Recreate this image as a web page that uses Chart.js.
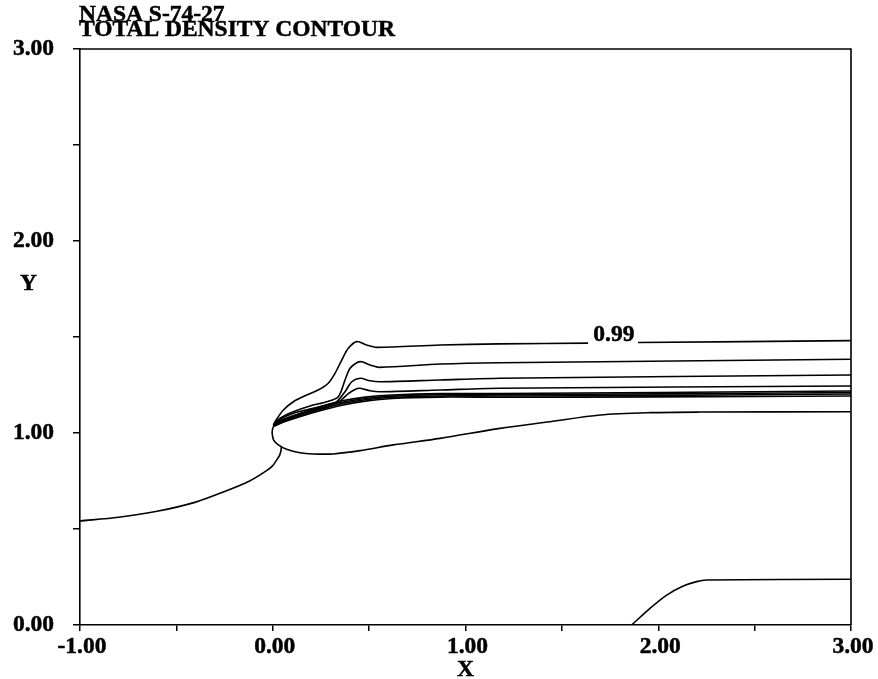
<!DOCTYPE html>
<html><head><meta charset="utf-8">
<script src="https://cdn.jsdelivr.net/npm/chart.js@4"></script>
<style>html,body{margin:0;padding:0;background:#fff}
.pre{font-family:"Liberation Serif";font-weight:bold;font-size:23.5px;position:absolute;left:-999px;top:0}</style>
</head><body>
<span class="pre">0.99 NASA</span>
<canvas id="c" width="878" height="679"></canvas>
<script>
// ---- data ----
const titleLines = ['NASA S-74-27', 'TOTAL DENSITY CONTOUR'];
const xAxisTitle = 'X';
const yAxisTitle = 'Y';
const xTickValues = [-1, 0, 1, 2, 3];
const xTickLabels = ['-1.00', '0.00', '1.00', '2.00', '3.00'];
const yTickValues = [0, 1, 2, 3];
const yTickLabels = ['0.00', '1.00', '2.00', '3.00'];
const contourLabelText = '0.99';
const contourLabelAt = [1.77, 1.477];

const contour099 = [[0.003,1.040],[0.012,1.059],[0.055,1.120],[0.107,1.163],[0.176,1.198],[0.236,1.224],[0.288,1.259],[0.323,1.311],[0.358,1.380],[0.392,1.441],[0.436,1.476],[0.487,1.458],[0.539,1.446],[0.868,1.458],[1.179,1.464],[1.636,1.468],[1.76,null],[1.895,1.471],[3.0,1.481]];
const contourB = [[0.003,1.040],[0.038,1.077],[0.107,1.111],[0.193,1.141],[0.280,1.163],[0.340,1.189],[0.375,1.276],[0.401,1.337],[0.436,1.366],[0.461,1.371],[0.505,1.354],[0.556,1.342],[0.868,1.359],[1.179,1.366],[3.0,1.384]];
const contourC = [[0.003,1.040],[0.038,1.071],[0.107,1.103],[0.210,1.129],[0.297,1.151],[0.332,1.163],[0.375,1.215],[0.410,1.267],[0.453,1.285],[0.505,1.272],[0.556,1.267],[0.868,1.276],[1.179,1.285],[3.0,1.302]];
const contourD = [[0.003,1.040],[0.038,1.064],[0.141,1.100],[0.245,1.126],[0.340,1.160],[0.392,1.205],[0.427,1.227],[0.453,1.233],[0.505,1.220],[0.556,1.215],[0.868,1.224],[1.179,1.233],[3.0,1.245]];
const contourE = [[0.003,1.040],[0.06,1.070],[0.14,1.102],[0.25,1.138],[0.36,1.168],[0.48,1.187],[0.62,1.198],[0.87,1.205],[1.18,1.206],[2.0,1.211],[3.0,1.219]];
const contourF = [[0.003,1.038],[0.06,1.066],[0.14,1.097],[0.25,1.131],[0.36,1.160],[0.48,1.180],[0.62,1.192],[0.87,1.199],[1.18,1.200],[2.0,1.204],[3.0,1.211]];
const contourG = [[0.003,1.036],[0.06,1.062],[0.14,1.091],[0.25,1.124],[0.36,1.153],[0.48,1.173],[0.62,1.186],[0.87,1.193],[1.18,1.193],[2.0,1.196],[3.0,1.203]];
const contourH = [[0.003,1.034],[0.06,1.058],[0.14,1.085],[0.25,1.117],[0.36,1.145],[0.48,1.166],[0.62,1.180],[0.87,1.187],[1.18,1.186],[2.0,1.188],[3.0,1.193]];
const contourLoop = [[0.003,1.034],[-0.002,1.015],[-0.003,0.998],[0.004,0.964],[0.029,0.938],[0.072,0.915],[0.141,0.897],[0.210,0.891],[0.314,0.891],[0.453,0.908],[0.625,0.938],[0.868,0.972],[1.179,1.024],[1.438,1.059],[1.698,1.094],[1.957,1.106],[2.217,1.109],[3.0,1.111]];
const contourShock = [[-1.0,0.542],[-0.8,0.561],[-0.6,0.592],[-0.4,0.640],[-0.25,0.695],[-0.12,0.750],[-0.03,0.805],[0.0,0.830],[0.020,0.859],[0.036,0.885],[0.043,0.910],[0.045,0.929]];
const contourLow = [[1.862,0.0],[1.957,0.087],[2.044,0.156],[2.130,0.203],[2.199,0.226],[2.251,0.234],[3.0,0.238]];

const contours = [contour099, contourB, contourC, contourD, contourE, contourF, contourG, contourH, contourLoop, contourShock, contourLow];

// ---- chart ----
const FONT = 'bold 23.5px "Liberation Serif"';
const SX = 1.0;
function txt(ctx, s, x, y, align) {
  ctx.save();
  ctx.scale(SX, 1);
  ctx.textAlign = align;
  ctx.textBaseline = 'alphabetic';
  ctx.fillText(s, x / SX, y);
  ctx.lineWidth = 0.5;
  ctx.strokeText(s, x / SX, y);
  ctx.restore();
}

const decor = {
  id: 'decor',
  afterDraw(chart) {
    const ctx = chart.ctx, a = chart.chartArea;
    const xs = chart.scales.x, ys = chart.scales.y;
    ctx.save();
    ctx.strokeStyle = '#000';
    ctx.lineWidth = 1.6;
    ctx.beginPath();
    ctx.moveTo(a.left, a.top); ctx.lineTo(a.right, a.top); ctx.lineTo(a.right, a.bottom);
    ctx.stroke();
    ctx.fillStyle = '#000';
    ctx.font = FONT;
    xTickValues.forEach((v, i) => txt(ctx, xTickLabels[i], xs.getPixelForValue(v) + 2, 653, 'center'));
    yTickValues.forEach((v, i) => txt(ctx, yTickLabels[i], 54, ys.getPixelForValue(v) + 5.5, 'right'));
    txt(ctx, titleLines[0], 79, 21, 'left');
    txt(ctx, titleLines[1], 79, 36, 'left');
    txt(ctx, yAxisTitle, 28.5, 290, 'center');
    txt(ctx, xAxisTitle, 465.5, 676, 'center');
    txt(ctx, contourLabelText, xs.getPixelForValue(contourLabelAt[0]), ys.getPixelForValue(contourLabelAt[1]), 'center');
    ctx.restore();
  }
};

function build() {
  new Chart(document.getElementById('c'), {
    type: 'scatter',
    data: {
      datasets: contours.map(c => ({
        data: c.map(p => ({ x: p[0], y: p[1] })),
        showLine: true,
        spanGaps: false,
        borderColor: '#000',
        borderWidth: 1.6,
        pointRadius: 0,
        tension: 0.3,
        fill: false
      }))
    },
    options: {
      responsive: false,
      animation: false,
      devicePixelRatio: 1,
      layout: { padding: { left: 80, right: 27, top: 49, bottom: 54 } },
      plugins: { legend: { display: false }, tooltip: { enabled: false }, title: { display: false } },
      scales: {
        x: {
          type: 'linear', min: -1, max: 3,
          ticks: { display: false, stepSize: 0.5 },
          grid: { display: true, drawOnChartArea: false, drawTicks: true, tickLength: 6, color: '#000', lineWidth: 1.5 },
          border: { display: true, color: '#000', width: 1.6 },
          afterFit: s => { s.height = 0; }
        },
        y: {
          type: 'linear', min: 0, max: 3,
          ticks: { display: false, stepSize: 0.5 },
          grid: { display: true, drawOnChartArea: false, drawTicks: true, tickLength: 7, color: '#000', lineWidth: 1.5 },
          border: { display: true, color: '#000', width: 1.6 },
          afterFit: s => { s.width = 0; }
        }
      }
    },
    plugins: [decor]
  });
}
if (document.fonts && document.fonts.load) {
  document.fonts.load(FONT, '0.99 NASA').then(build, build);
} else { build(); }
</script>
</body></html>
